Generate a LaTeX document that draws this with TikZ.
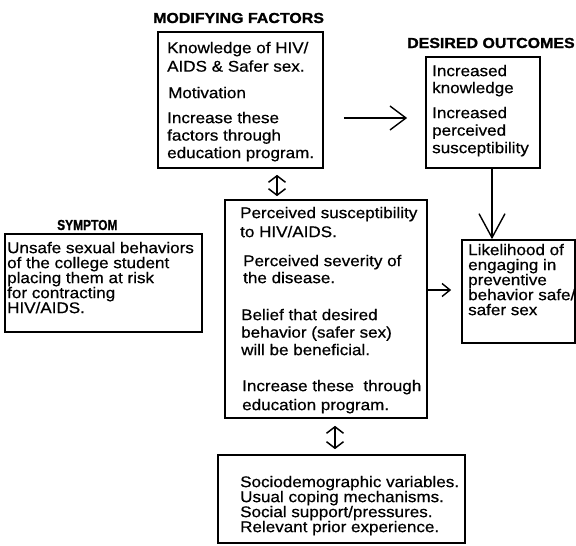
\documentclass[tikz,border=0pt]{standalone}
\usepackage{fontspec}
\setmainfont{Liberation Sans}[FakeStretch=1.1,UprightFeatures={FakeBold=0.6},BoldFeatures={FakeBold=1.2}]
\usetikzlibrary{arrows.meta,calc}
\begin{document}
\begin{tikzpicture}[x=1pt,y=-1pt,
  box/.style={draw,line width=1.7pt,inner sep=0pt},
  txt/.style={anchor=north west,inner sep=0pt,align=left,font=\fontsize{15.5}{#1}\selectfont},
  ttl/.style={anchor=base west,inner sep=0pt,font=\bfseries\fontsize{14.5}{16}\selectfont},
  conn/.style={line width=1.4pt},
  dbl/.style={line width=1.5pt,{Straight Barb[length=6.5pt,width=17pt]}-{Straight Barb[length=6.5pt,width=17pt]}}
]
\useasboundingbox (0,0) rectangle (576,546);

% titles
\node[ttl] (tmod) at (153,23) {MODIFYING FACTORS};
\node[ttl] (tdes) at (407,48) {DESIRED OUTCOMES};
\node[ttl] (tsym) at (57,230) {\scalebox{0.75}[1]{SYMPTOM}};

% boxes
\node[box,minimum width=165pt,minimum height=136pt] (mod) at (240.5,100) {};
\node[box,minimum width=114pt,minimum height=111pt] (des) at (483,112.5) {};
\node[box,minimum width=197pt,minimum height=98pt] (sym) at (103.5,283) {};
\node[box,minimum width=202pt,minimum height=218pt] (cen) at (326,309) {};
\node[box,minimum width=113pt,minimum height=103pt] (lik) at (518.5,291.5) {};
\node[box,minimum width=247pt,minimum height=88pt] (bot) at (341.5,499) {};

% texts
\node[txt=18.5] (modA) at (167,41.7) {Knowledge of HIV/\\AIDS \& Safer sex.};
\node[txt=18] (modB) at (168,86.7) {Motivation};
\node[txt=17.5] (modC) at (167,111.7) {Increase these\\factors through\\education program.};

\node[txt=17] (desA) at (432,64.7) {Increased\\knowledge};
\node[txt=17.5] (desB) at (432,106.7) {Increased\\perceived\\susceptibility};

\node[txt=15] (symA) at (7,241.7) {Unsafe sexual behaviors\\of the college student\\placing them at risk\\for contracting\\HIV/AIDS.};

\node[txt=19] (cenA) at (240,206.7) {Perceived susceptibility\\to HIV/AIDS.};
\node[txt=17] (cenB) at (243,254.7) {Perceived severity of\\the disease.};
\node[txt=17.5] (cenC) at (241,308.7) {Belief that desired\\behavior (safer sex)\\will be beneficial.};
\node[txt=19] (cenD) at (242,379.7) {Increase these\ \ through\\education program.};

\node[txt=15] (likA) at (468,243.7) {Likelihood of\\engaging in\\preventive\\behavior safe/\\safer sex};

\node[txt=15] (botA) at (240,475.7) {Sociodemographic variables.\\Usual coping mechanisms.\\Social support/pressures.\\Relevant prior experience.};

% connectors
\draw[conn,-{Straight Barb[length=16pt,width=24pt]}]
  ($(mod.east |- des.west)+(20,5.5)$) -- ($(des.west)+(-18,5.5)$);
\draw[conn,-{Straight Barb[length=24pt,width=26pt]}]
  ($(des.south)+(9,0)$) -- ($(lik.north -| des.south)+(9,0)$);
\draw[conn,-{Straight Barb[length=8pt,width=13pt]}]
  ($(cen.east |- lik.west)+(0,-1.5)$) -- ($(lik.west)+(-10,-1.5)$);
\draw[dbl] ($(mod.south)+(36.5,6)$) -- ($(cen.north -| mod.south)+(36.5,-3)$);
\draw[dbl] ($(cen.south)+(9,7)$) -- ($(bot.north -| cen.south)+(9,-5)$);
\end{tikzpicture}
\end{document}
